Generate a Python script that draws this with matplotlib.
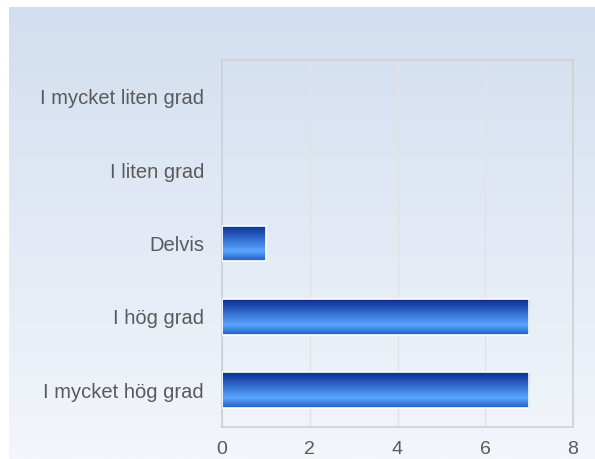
import numpy as np
import matplotlib.pyplot as plt
from matplotlib.colors import LinearSegmentedColormap

# Kategorier och antal svar
kategorier = ['I mycket hög grad', 'I hög grad', 'Delvis', 'I liten grad', 'I mycket liten grad']
antal = [7, 7, 1, 0, 0]
xticks = [0, 2, 4, 6, 8]

fig = plt.figure(figsize=(5.95, 4.59), dpi=100)
fig.patch.set_facecolor('white')

# bakgrund med gradient (vit marginal uppe och till vänster)
bg = fig.add_axes([9 / 595, 0, 1 - 9 / 595, 1 - 7 / 459])
bg_cmap = LinearSegmentedColormap.from_list('bg', ['#d2deef', '#f3f6fb'])
bg.imshow(np.linspace(0, 1, 256).reshape(-1, 1), aspect='auto', cmap=bg_cmap,
          extent=[0, 1, 0, 1], origin='upper')
bg.axis('off')

ax = fig.add_axes([222 / 595, 1 - 427 / 459, (573 - 222) / 595, (427 - 60) / 459])
ax.patch.set_alpha(0)

bars = ax.barh(range(len(kategorier)), antal, height=0.49, color='none',
               edgecolor='white', linewidth=1.2, zorder=3)

# gradient i staplarna
bar_cmap = LinearSegmentedColormap.from_list(
    'bar', [(0, '#0b2d8c'), (0.35, '#2f66cc'), (0.72, '#5aa6ff'), (1, '#1e5cc6')])
grad = np.linspace(0, 1, 256).reshape(-1, 1)
for b in bars:
    if b.get_width() <= 0:
        b.set_linewidth(0)
        continue
    x0, y0 = b.get_x(), b.get_y()
    im = ax.imshow(grad, aspect='auto', cmap=bar_cmap, origin='upper',
                   extent=[x0, x0 + b.get_width(), y0, y0 + b.get_height()], zorder=2)
    im.set_clip_path(b)

ax.set_xlim(0, 8)
ax.set_ylim(-0.5, len(kategorier) - 0.5)
ax.set_xticks(xticks)
ax.set_yticks(range(len(kategorier)))
ax.set_yticklabels(kategorier)
ax.xaxis.grid(True, color='#e2e2e2', linewidth=1, zorder=0)
ax.set_axisbelow(True)

for s in ax.spines.values():
    s.set_color('#d0d0d0')
    s.set_linewidth(1.2)
ax.spines['left'].set_color('#c8d0dc')

ax.tick_params(length=0, labelsize=14, labelcolor='#5a5a5a')
ax.tick_params(axis='y', labelsize=14.5, pad=13)
ax.tick_params(axis='x', pad=10)
for lab in ax.get_yticklabels() + ax.get_xticklabels():
    lab.set_fontfamily('Liberation Sans')

fig.savefig('out.png', dpi=100)
